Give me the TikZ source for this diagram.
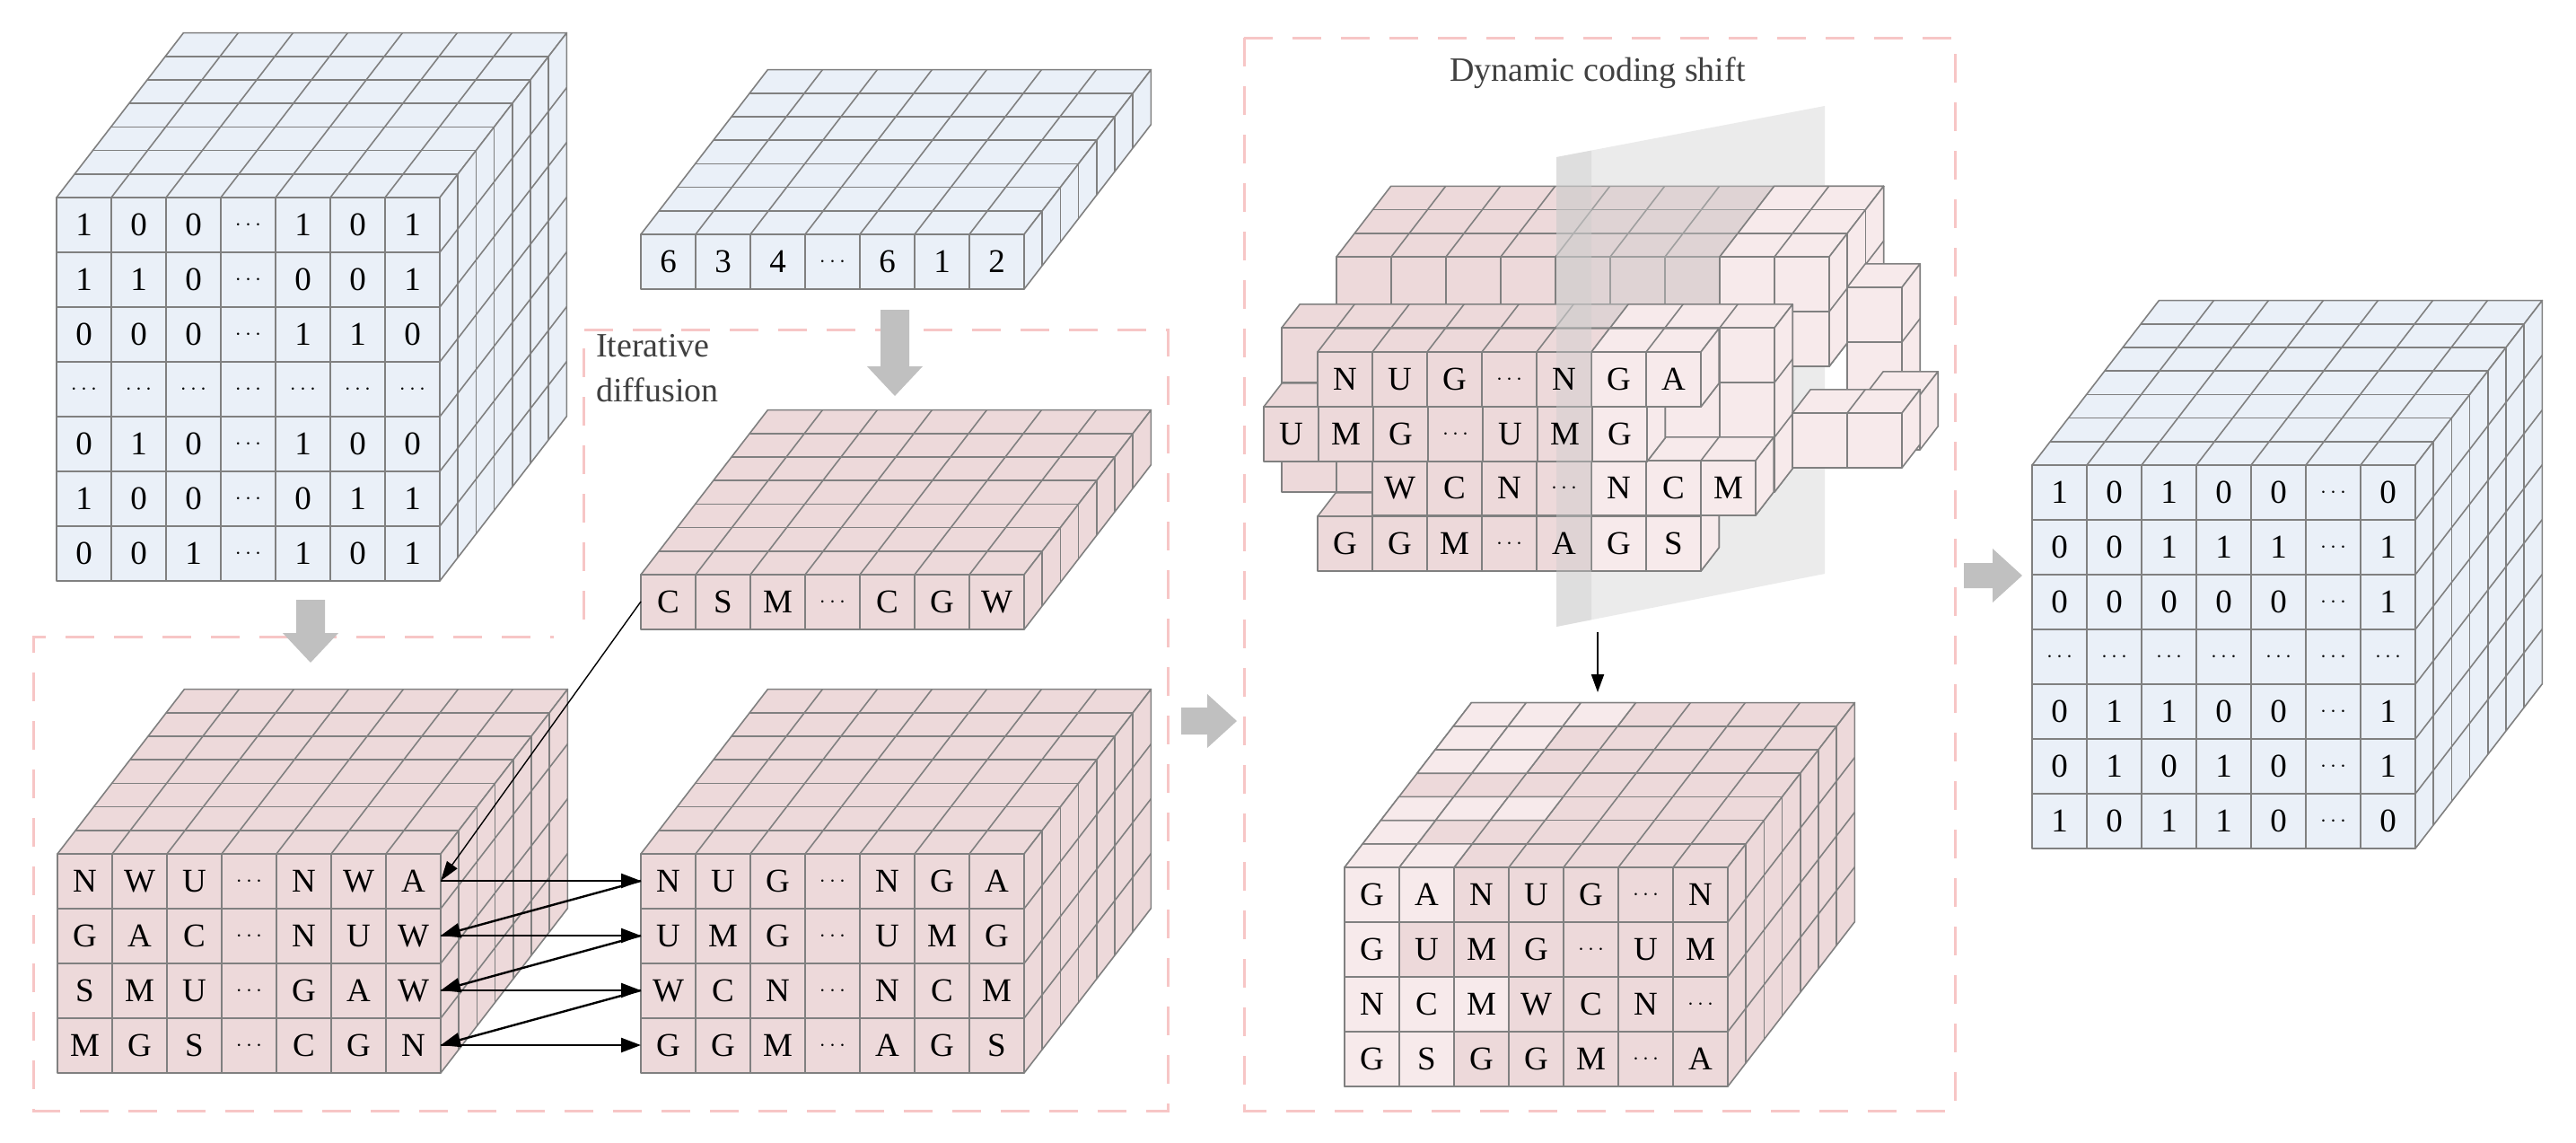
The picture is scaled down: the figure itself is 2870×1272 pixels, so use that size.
\documentclass[tikz,border=0pt]{standalone}
\usepackage{fontspec}
\setmainfont{Liberation Serif}
\usetikzlibrary{arrows.meta}
\definecolor{lgray}{HTML}{808080}
\definecolor{cblue}{HTML}{EAF0F8}
\definecolor{cpink}{HTML}{EDD9DA}
\definecolor{clight}{HTML}{F7EAEB}
\definecolor{dashc}{HTML}{F7C6C6}
\definecolor{garrow}{HTML}{C0C0C0}
\def\cw{61}\def\ch{61}\def\ox{20.2}\def\oy{26.2}
\def\dd{$\cdots$}
\tikzset{
  cube/.style={draw=lgray, line width=1.6pt, line join=round},
  lab/.style={font=\fontsize{37}{40}\selectfont, inner sep=0pt},
  dashbox/.style={draw=dashc, line width=3pt, dash pattern=on 32pt off 22pt},
  blk/.style={draw=black, line width=2.4pt, -{Triangle[length=22pt,width=16pt]}},
  gblock/.style={fill=garrow, draw=none},
  plane/.style={fill=black!20, opacity=0.4}
}
\newcommand{\slab}[6]{%
 \begin{scope}[shift={(#1,#2)}]
  \pgfmathsetmacro\W{#3*\cw}\pgfmathsetmacro\H{#4*\ch}%
  \pgfmathsetmacro\DX{#5*\ox}\pgfmathsetmacro\DY{#5*\oy}%
  \filldraw[cube,fill=#6] (0,0) -- (\W,0) -- ++(\DX,-\DY) -- ++(-\W,0) -- cycle;
  \filldraw[cube,fill=#6] (\W,0) -- ++(\DX,-\DY) -- ++(0,\H) -- ++(-\DX,\DY) -- cycle;
  \filldraw[cube,fill=#6] (0,0) rectangle (\W,\H);
  \ifnum#3>1 \foreach \i in {2,...,#3}{\draw[cube] ({(\i-1)*\cw},\H) -- ({(\i-1)*\cw},0) -- ++(\DX,-\DY);}\fi
  \ifnum#4>1 \foreach \j in {2,...,#4}{\draw[cube] (0,{(\j-1)*\ch}) -- ++(\W,0) -- ++(\DX,-\DY);}\fi
  \ifnum#5>1 \foreach \k in {2,...,#5}{\draw[cube] ({(\k-1)*\ox},{-(\k-1)*\oy}) -- ++(\W,0) -- ++(0,\H);}\fi
 \end{scope}}
\newcommand{\labs}[4]{%
 \foreach \t [count=\i from 0] in {#4}{\node[lab] (#3-\i) at ({#1+(\i+0.5)*\cw},{#2+\ch/2}) {\t};}}
\newcommand{\topcell}[5]{% x y col layer
 \filldraw[cube,fill=#5] ({#1+#3*\cw+#4*\ox},{#2-#4*\oy}) -- ++(\cw,0) -- ++(\ox,-\oy) -- ++(-\cw,0) -- cycle;}
\newcommand{\frontcell}[5]{\filldraw[cube,fill=#5] ({#1+#3*\cw},{#2+#4*\ch}) rectangle ++(\cw,\ch);}
\begin{document}
\begin{tikzpicture}[x=1pt,y=-1pt]
\useasboundingbox (0,0) rectangle (2870,1272);
% dashed frames
\draw[dashbox] (650,690) -- (650,367) -- (1301,367) -- (1301,1237) -- (37,1237) -- (37,709) -- (617,709);
\draw[dashbox] (1386,42) rectangle (2178,1237);
\node[anchor=north west, align=left, font=\fontsize{38}{50}\selectfont, text=black!75, inner sep=0pt] (itd) at (664,372) {Iterative\\diffusion};
\node[font=\fontsize{38}{44}\selectfont, text=black!75, inner sep=0pt] (dcs) at (1780,81) {Dynamic coding shift};
% top-left cube
\slab{63}{220}{7}{7}{7}{cblue}
\labs{63}{220}{a0}{1,0,0,\dd,1,0,1}
\labs{63}{281}{a1}{1,1,0,\dd,0,0,1}
\labs{63}{342}{a2}{0,0,0,\dd,1,1,0}
\labs{63}{403}{a3}{\dd,\dd,\dd,\dd,\dd,\dd,\dd}
\labs{63}{464}{a4}{0,1,0,\dd,1,0,0}
\labs{63}{525}{a5}{1,0,0,\dd,0,1,1}
\labs{63}{586}{a6}{0,0,1,\dd,1,0,1}
% key slab
\slab{714}{261}{7}{1}{7}{cblue}
\labs{714}{261}{k}{6,3,4,\dd,6,1,2}
% pink slab
\slab{714}{640}{7}{1}{7}{cpink}
\labs{714}{640}{p}{C,S,M,\dd,C,G,W}
% bottom-left cube
\slab{64}{951}{7}{4}{7}{cpink}
\labs{64}{951}{b0}{N,W,U,\dd,N,W,A}
\labs{64}{1012}{b1}{G,A,C,\dd,N,U,W}
\labs{64}{1073}{b2}{S,M,U,\dd,G,A,W}
\labs{64}{1134}{b3}{M,G,S,\dd,C,G,N}
% bottom-middle cube
\slab{714}{951}{7}{4}{7}{cpink}
\labs{714}{951}{c0}{N,U,G,\dd,N,G,A}
\labs{714}{1012}{c1}{U,M,G,\dd,U,M,G}
\labs{714}{1073}{c2}{W,C,N,\dd,N,C,M}
\labs{714}{1134}{c3}{G,G,M,\dd,A,G,S}
% right cube
\slab{2264}{518}{7}{7}{7}{cblue}
\labs{2264}{518}{r0}{1,0,1,0,0,\dd,0}
\labs{2264}{579}{r1}{0,0,1,1,1,\dd,1}
\labs{2264}{640}{r2}{0,0,0,0,0,\dd,1}
\labs{2264}{701}{r3}{\dd,\dd,\dd,\dd,\dd,\dd,\dd}
\labs{2264}{762}{r4}{0,1,1,0,0,\dd,1}
\labs{2264}{823}{r5}{0,1,0,1,0,\dd,1}
\labs{2264}{884}{r6}{1,0,1,1,0,\dd,0}
% dynamic bottom cube
\slab{1498}{966}{7}{4}{7}{cpink}
\foreach \c/\l in {0/0,1/0,0/1,0/2,1/2,2/2,0/4,1/4,0/5,1/5,0/6,1/6,2/6}{\topcell{1498}{966}{\c}{\l}{clight}}
\foreach \c/\r in {0/0,1/0,0/1,0/2,1/2,2/2,0/3,1/3}{\frontcell{1498}{966}{\c}{\r}{clight}}
\labs{1498}{966}{d0}{G,A,N,U,G,\dd,N}
\labs{1498}{1027}{d1}{G,U,M,G,\dd,U,M}
\labs{1498}{1088}{d2}{N,C,M,W,C,N,\dd}
\labs{1498}{1149}{d3}{G,S,G,G,M,\dd,A}
% dynamic cluster
\slab{1489}{286}{9}{2}{3}{cpink}
\slab{1428}{365}{9}{3}{1}{cpink}
\fill[plane] (1734,175) -- (2033,118) -- (2033,639) -- (1734,698) -- cycle;
\slab{1916}{286}{2}{2}{3}{clight}
\slab{1794}{365}{3}{3}{1}{clight}
\slab{2058}{320}{1}{2}{1}{clight}
\slab{2078}{440}{1}{1}{1}{clight}
\slab{1997}{460}{2}{1}{1}{clight}
\slab{1468}{575}{7}{1}{1}{cpink}\slab{1773}{575}{2}{1}{1}{clight}
\slab{1529}{513}{7}{1}{1}{cpink}\slab{1773}{513}{3}{1}{1}{clight}
\slab{1408}{453}{7}{1}{1}{cpink}\slab{1774}{453}{1}{1}{1}{clight}
\slab{1468}{392}{7}{1}{1}{cpink}\slab{1773}{392}{2}{1}{1}{clight}
\begin{scope}
\clip (1734,0) rectangle (1773,1272);
\fill[plane] (1734,175) -- (2033,118) -- (2033,639) -- (1734,698) -- cycle;
\end{scope}
\labs{1468}{392}{e0}{N,U,G,\dd,N,G,A}
\labs{1408}{453}{e1}{U,M,G,\dd,U,M,G}
\labs{1529}{513}{e2}{W,C,N,\dd,N,C,M}
\labs{1468}{575}{e3}{G,G,M,\dd,A,G,S}
% gray block arrows
\fill[gblock] (981,345) -- (1013,345) -- (1013,408) -- (1028,408) -- (997,441) -- (966,408) -- (981,408) -- cycle;
\fill[gblock] (330,668) -- (362,668) -- (362,705) -- (377,705) -- (346,738) -- (315,705) -- (330,705) -- cycle;
\fill[gblock] (1316,788) -- (1345,788) -- (1345,773) -- (1378,803) -- (1345,833) -- (1345,818) -- (1316,818) -- cycle;
\fill[gblock] (2188,627) -- (2220,627) -- (2220,611) -- (2253,641) -- (2220,671) -- (2220,655) -- (2188,655) -- cycle;
% black connectors
\coordinate (L0) at (491,981); \coordinate (L1) at (491,1042); \coordinate (L2) at (491,1103); \coordinate (L3) at (491,1164);
\coordinate (R0) at (714,981); \coordinate (R1) at (714,1042); \coordinate (R2) at (714,1103); \coordinate (R3) at (714,1164);
\coordinate (P0) at (714,670);
\draw[draw=black, line width=1.4pt, -{Triangle[length=22pt,width=14pt]}] (P0) -- (L0);
\foreach \i in {0,1,2,3}{\draw[blk] (L\i) -- (R\i);}
\draw[blk] (R0) -- (L1);
\draw[blk] (R1) -- (L2);
\draw[blk] (R2) -- (L3);
\coordinate (S0) at (1780,704); \coordinate (S1) at (1780,771);
\draw[draw=black, line width=2pt, -{Triangle[length=20pt,width=14pt]}] (S0) -- (S1);
\end{tikzpicture}
\end{document}
